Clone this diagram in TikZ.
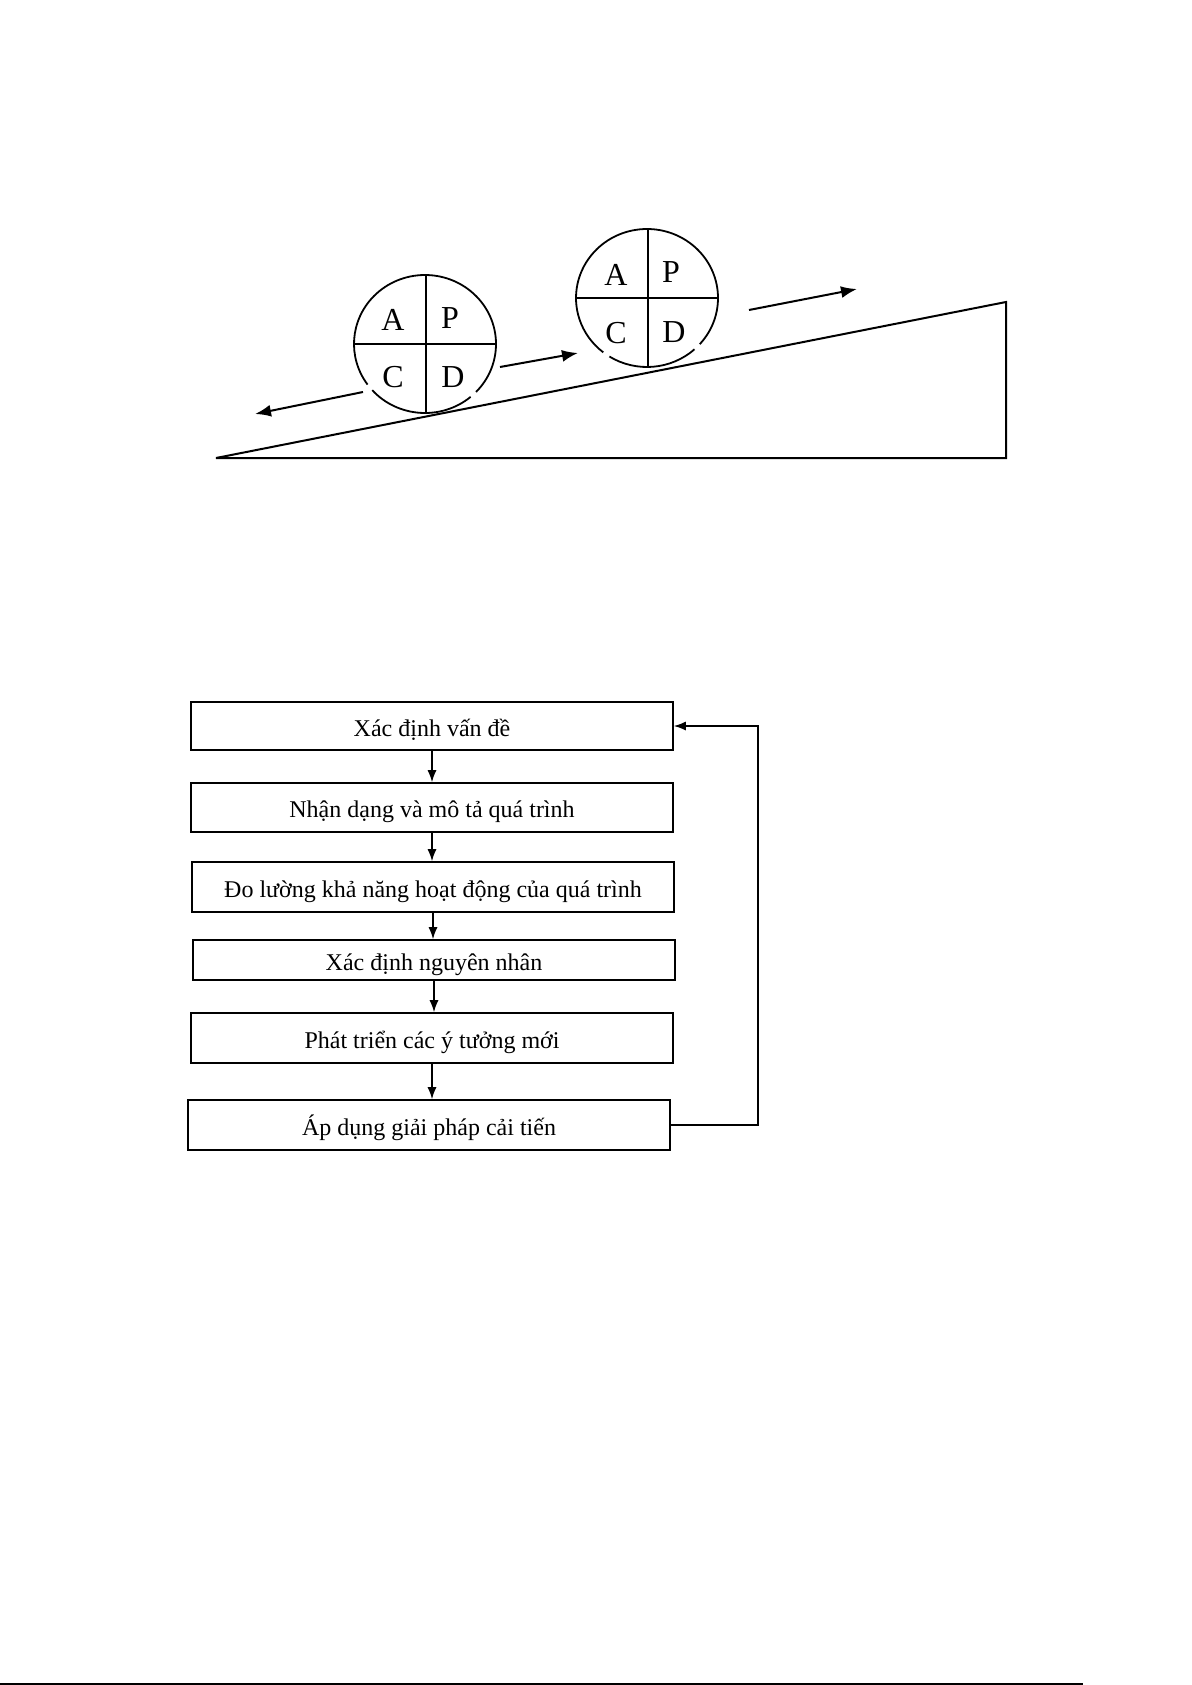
\documentclass[tikz,border=0pt]{standalone}
\usepackage{fontspec}
\setmainfont{Liberation Serif}
\usetikzlibrary{arrows.meta}
\tikzset{
  stepbox/.style={draw, line width=0.8pt, minimum width=241pt, minimum height=24pt, inner sep=0pt,
    text height=10pt, text depth=0pt, font=\fontsize{12}{14}\selectfont},
  flow/.style={-{Latex[length=6pt,width=4.5pt]}, line width=0.7pt},
  roll/.style={-{Latex[length=8pt,width=6pt]}, line width=1pt},
  wheel/.style={line width=0.9pt},
  pdca/.style={font=\fontsize{16}{18}\selectfont, inner sep=0pt}
}
\begin{document}
\begin{tikzpicture}[x=0.5pt,y=-0.5pt]
\useasboundingbox (0,0) rectangle (1192,1685);
% incline
\draw[line width=1pt] (216,458) -- (1006,458) -- (1006,302) -- cycle;
% lower wheel (small breaks in the rim)
\draw[wheel] (425,344) ++(222:35.5pt and 34.5pt) arc[start angle=222, end angle=310, x radius=35.5pt, y radius=34.5pt];
\draw[wheel] (425,344) ++(316:35.5pt and 34.5pt) arc[start angle=316, end angle=576, x radius=35.5pt, y radius=34.5pt];
\draw[wheel] (426,275) -- (426,413);
\draw[wheel] (354,344) -- (496,344);
\node[pdca] (a1) at (393,320) {A};
\node[pdca] (p1) at (450,318) {P};
\node[pdca] (c1) at (393,377) {C};
\node[pdca] (d1) at (453,377) {D};
% upper wheel
\draw[wheel] (647,298) ++(238:35.5pt and 34.5pt) arc[start angle=238, end angle=312, x radius=35.5pt, y radius=34.5pt];
\draw[wheel] (647,298) ++(318:35.5pt and 34.5pt) arc[start angle=318, end angle=592, x radius=35.5pt, y radius=34.5pt];
\draw[wheel] (648,229) -- (648,367);
\draw[wheel] (576,298) -- (718,298);
\node[pdca] (a2) at (616,275) {A};
\node[pdca] (p2) at (671,272) {P};
\node[pdca] (c2) at (616,333) {C};
\node[pdca] (d2) at (674,332) {D};
% arrows
\draw[roll] (363,392) -- (255,414);
\draw[roll] (500,367) -- (578,353);
\draw[roll] (749,310) -- (857,289);
% flow chart
\node[stepbox] (xd) at (432,726) {Xác định vấn đề};
\node[stepbox, minimum height=24.5pt] (nd) at (432,807.5) {Nhận dạng và mô tả quá trình};
\node[stepbox, minimum height=25pt] (dl) at (433,887) {Đo lường khả năng hoạt động của quá trình};
\node[stepbox, minimum height=20pt] (nn) at (434,960) {Xác định nguyên nhân};
\node[stepbox, minimum height=25pt] (pt) at (432,1038) {Phát triển các ý tưởng mới};
\node[stepbox, minimum height=25pt] (ad) at (429,1125) {Áp dụng giải pháp cải tiến};
\draw[flow] (xd.south) -- (xd.south |- nd.north);
\draw[flow] (nd.south) -- (nd.south |- dl.north);
\draw[flow] (dl.south) -- (dl.south |- nn.north);
\draw[flow] (nn.south) -- (nn.south |- pt.north);
\draw[flow] (pt.south) -- (pt.south |- ad.north);
\draw[flow] (ad.east) -- ++(87,0) |- (xd.east);
% page rule
\draw[line width=1pt] (0,1684) -- (1083,1684);
\end{tikzpicture}
\end{document}
